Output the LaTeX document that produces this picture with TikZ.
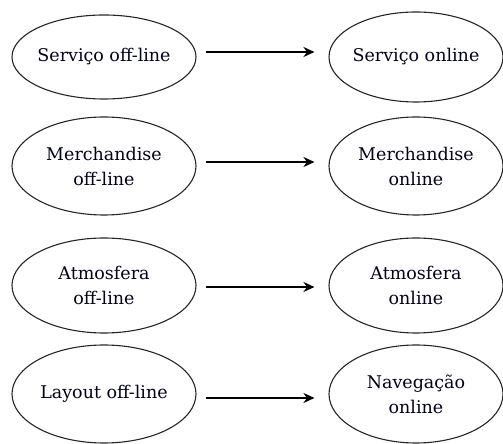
\documentclass[tikz,border=0pt]{standalone}
\usepackage{fontspec}
\setmainfont{DejaVu Serif}
\usepackage{tikz}
\usetikzlibrary{shapes,arrows.meta,positioning}

\tikzset{
  dim/.style={draw=black!85, line width=1.1pt, ellipse, align=center, inner ysep=0pt, inner xsep=-25pt,
    text=black!90!blue, font=\fontsize{17.5}{25}\selectfont},
  lft/.style={dim, minimum width=184pt},
  rgt/.style={dim, minimum width=174pt},
  arr/.style={-{Stealth[length=11pt,width=10pt]}, line width=2.4pt, shorten <=9pt, shorten >=14pt}
}

\begin{document}
\begin{tikzpicture}[x=1pt,y=1pt]
    \useasboundingbox (0,0) rectangle (503,444);

    % dimensoes off-line
    \node[lft, minimum height=84pt] (servoff) at (104,387) {Serviço off-line};
    \node[lft, minimum height=98pt] (merchoff) at (104,278) {Merchandise\\off-line};
    \node[lft, minimum height=95pt] (atmoff) at (104,158.5) {Atmosfera\\off-line};
    \node[lft, minimum height=98pt] (layoff) at (104,50) {Layout off-line};

    % dimensoes online
    \node[rgt, minimum height=90pt] (servon) at (416,387) {Serviço online};
    \node[rgt, minimum height=98pt] (merchon) at (416,278) {Merchandise\\online};
    \node[rgt, minimum height=95pt] (atmon) at (416,158.5) {Atmosfera\\online};
    \node[rgt, minimum height=98pt] (navon) at (416,50) {Navegação\\online};

    \draw[arr] ([yshift=5pt]servoff.east) -- ([yshift=5pt]servoff.east -| servon.west);
    \draw[arr] ([yshift=4pt]merchoff.east) -- ([yshift=4pt]merchoff.east -| merchon.west);
    \draw[arr] ([yshift=-1.5pt]atmoff.east) -- ([yshift=-1.5pt]atmoff.east -| atmon.west);
    \draw[arr] ([yshift=-4pt]layoff.east) -- ([yshift=-4pt]layoff.east -| navon.west);

\end{tikzpicture}
\end{document}
